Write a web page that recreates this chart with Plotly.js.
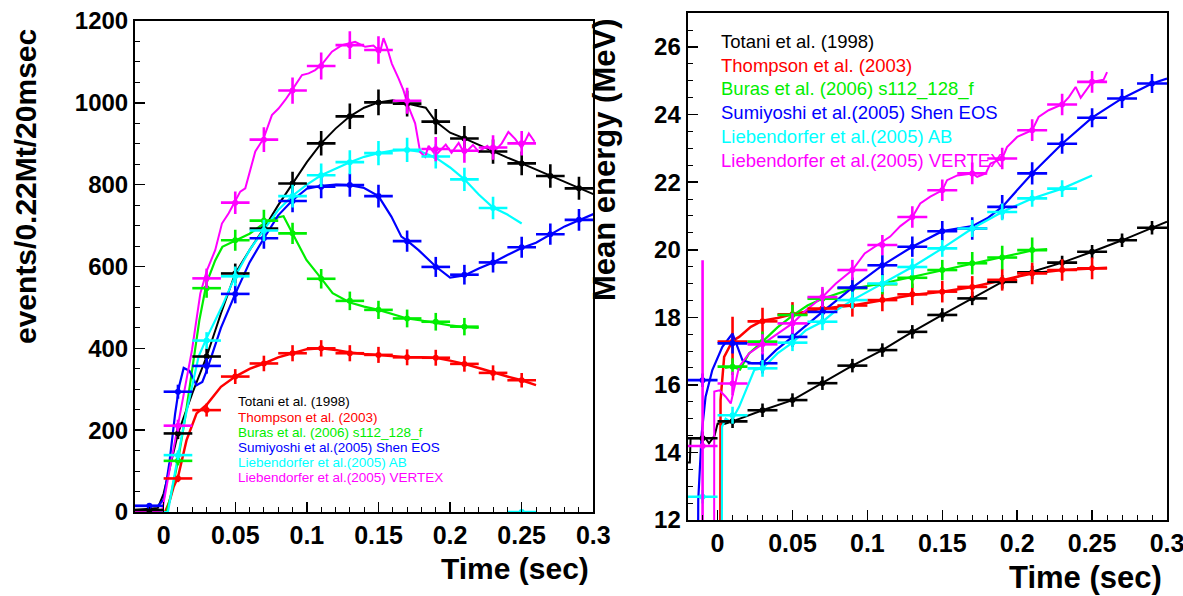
<!DOCTYPE html>
<html><head><meta charset="utf-8">
<script src="https://cdn.plot.ly/plotly-3.0.1.min.js"></script>
<style>html,body{margin:0;padding:0;background:#fff;} #chart{width:1183px;height:596px;}</style>
</head><body><div id="chart"></div>
<script>
// ---------- shared bin centres (20 msec bins) ----------
var binTime = [-0.01, 0.01, 0.03, 0.05, 0.07, 0.09, 0.11, 0.13, 0.15, 0.17, 0.19, 0.21, 0.23, 0.25, 0.27, 0.29];

var seriesNames = ["Totani et al. (1998)", "Thompson et al. (2003)", "Buras et al. (2006) s112_128_f",
  "Sumiyoshi et al.(2005) Shen EOS", "Liebendorfer et al.(2005) AB", "Liebendorfer et al.(2005) VERTEX"];
var seriesColors = ["#000000", "#ff0000", "#00ee00", "#0000ff", "#00ffff", "#ff00ff"];

// ---------- LEFT: event rate points ----------
var evTotani    = [5, 192, 380, 583, 693, 803, 901, 967, 1001, 998, 954, 913, 881, 852, 821, 791];
var evThompson  = [null, 82, 249, 331, 363, 388, 400, 388, 384, 378, 377, 362, 340, 322, null, null];
var evBuras     = [null, 125, 547, 664, 712, 681, 570, 516, 494, 473, 465, 453, null, null, null, null];
var evSumiyoshi = [15, 294, 357, 533, 669, 760, 795, 799, 772, 662, 599, 580, 610, 647, 679, 714];
var evLiebAB    = [null, 139, 419, 576, 688, 772, 823, 855, 877, 885, 869, 813, 743, 0, null, null];
var evLiebVX    = [null, 211, 571, 756, 910, 1030, 1090, 1141, 1129, 1005, 887, 883, 891, 901, null, null];

// ---------- LEFT: model curves ----------
var cTotaniT = [-0.02, -0.004, 0.0, 0.005, 0.01, 0.02, 0.03, 0.04, 0.05, 0.06, 0.07, 0.08, 0.09, 0.1, 0.11, 0.12, 0.13, 0.14, 0.15, 0.16, 0.17, 0.183, 0.19, 0.2, 0.21, 0.22, 0.23, 0.24, 0.25, 0.26, 0.27, 0.28, 0.29, 0.3];
var cTotaniV = [5, 10, 45, 120, 192, 290, 380, 485, 583, 640, 693, 750, 803, 855, 901, 937, 967, 988, 1001, 1006, 998, 988, 954, 927, 913, 897, 881, 866, 852, 837, 821, 806, 791, 777];

var cThompsonT = [0.001, 0.004, 0.007, 0.01, 0.016, 0.023, 0.03, 0.04, 0.05, 0.06, 0.07, 0.08, 0.09, 0.1, 0.11, 0.12, 0.13, 0.14, 0.15, 0.16, 0.17, 0.18, 0.19, 0.2, 0.21, 0.22, 0.23, 0.24, 0.25, 0.26];
var cThompsonV = [0, 25, 62, 85, 176, 241, 262, 306, 331, 350, 363, 378, 388, 398, 400, 396, 390, 386, 384, 381, 378, 378, 377, 370, 362, 352, 341, 331, 322, 310];

var cBurasT = [0.002, 0.005, 0.01, 0.015, 0.02, 0.025, 0.03, 0.036, 0.041, 0.05, 0.06, 0.07, 0.077, 0.0837, 0.09, 0.0997, 0.11, 0.118, 0.13, 0.14, 0.15, 0.16, 0.17, 0.18, 0.19, 0.2, 0.21, 0.22];
var cBurasV = [0, 40, 125, 230, 350, 470, 560, 615, 648, 663, 680, 705, 718, 723, 681, 616, 571, 535, 512, 502, 494, 484, 473, 468, 462, 456, 452, 450];

var cSumiyoshiT = [-0.02, -0.004, 0.0, 0.004, 0.008, 0.011, 0.014, 0.018, 0.023, 0.027, 0.03, 0.035, 0.04, 0.05, 0.06, 0.07, 0.08, 0.09, 0.1, 0.11, 0.12, 0.13, 0.14, 0.15, 0.159, 0.166, 0.17, 0.178, 0.19, 0.2, 0.21, 0.22, 0.23, 0.24, 0.25, 0.26, 0.27, 0.28, 0.29, 0.3];
var cSumiyoshiV = [15, 15, 30, 120, 240, 310, 352, 345, 310, 318, 345, 400, 450, 533, 610, 669, 725, 762, 790, 797, 800, 799, 792, 772, 722, 673, 663, 640, 600, 573, 578, 595, 610, 628, 645, 658, 678, 698, 713, 728];

var cLiebABT = [-0.02, 0.003, 0.006, 0.01, 0.015, 0.0198, 0.0244, 0.03, 0.0407, 0.05, 0.06, 0.07, 0.08, 0.09, 0.1, 0.11, 0.12, 0.13, 0.14, 0.15, 0.16, 0.17, 0.18, 0.19, 0.2, 0.21, 0.22, 0.23, 0.24, 0.25];
var cLiebABV = [0, 0, 60, 139, 230, 306, 380, 425, 502, 577, 640, 690, 738, 773, 800, 823, 840, 855, 868, 877, 883, 885, 880, 866, 842, 813, 776, 744, 727, 705];

var cLiebVXT = [-0.02, -0.001, 0.004, 0.01, 0.0198, 0.0256, 0.0303, 0.036, 0.0407, 0.0454, 0.05, 0.0535, 0.057, 0.0605, 0.064, 0.0698, 0.0756, 0.0802, 0.0849, 0.0896, 0.0966, 0.1012, 0.1058, 0.1105, 0.1175, 0.1245, 0.1337, 0.1407, 0.1465, 0.1512, 0.1535, 0.1558, 0.1593, 0.164, 0.1674, 0.171, 0.1756, 0.1791, 0.1826, 0.185, 0.19, 0.197, 0.201, 0.206, 0.21, 0.216, 0.22, 0.226, 0.23, 0.234, 0.2361, 0.2407, 0.2454, 0.25, 0.255, 0.259];
var cLiebVXV = [0, 3, 100, 211, 396, 534, 591, 640, 705, 730, 762, 783, 791, 836, 881, 913, 970, 986, 1007, 1031, 1068, 1072, 1080, 1094, 1125, 1141, 1149, 1137, 1140, 1125, 1158, 1137, 1096, 1060, 1031, 990, 950, 880, 868, 895, 872, 898, 878, 902, 876, 897, 880, 895, 878, 893, 901, 929, 912, 890, 925, 905];

// ---------- RIGHT: mean energy points ----------
var meTotani    = [14.42, 14.92, 15.25, 15.55, 16.05, 16.57, 17.03, 17.57, 18.07, 18.56, 19.05, 19.33, 19.62, 19.94, 20.28, 20.65];
var meThompson  = [null, 17.28, 17.88, 18.09, 18.26, 18.35, 18.51, 18.68, 18.76, 18.9, 19.11, 19.3, 19.4, 19.45, null, null];
var meBuras     = [null, 16.54, 17.28, 18.07, 18.55, 18.86, 18.98, 19.17, 19.4, 19.6, 19.77, 19.99, null, null, null, null];
var meSumiyoshi = [16.14, 17.23, 16.64, 17.42, 18.16, 18.88, 19.54, 20.09, 20.55, 20.63, 21.27, 22.26, 23.14, 23.91, 24.48, 24.92];
var meLiebAB    = [12.69, 15.1, 16.49, 17.25, 17.87, 18.51, 19.0, 19.49, 20.04, 20.63, 21.12, 21.52, 21.81, null, null, null];
var meLiebVX    = [14.19, 16.04, 17.2, 17.82, 18.6, 19.4, 20.14, 20.97, 21.76, 22.26, 22.7, 23.54, 24.3, 24.97, null, null];

var meErrTotani    = [0.2, 0.2, 0.2, 0.2, 0.2, 0.2, 0.2, 0.2, 0.2, 0.2, 0.2, 0.2, 0.2, 0.2, 0.2, 0.2];
var meErrThompson  = [null, 0.74, 0.4, 0.36, 0.34, 0.33, 0.33, 0.32, 0.32, 0.32, 0.32, 0.32, 0.32, 0.32, null, null];
var meErrBuras     = [null, 0.25, 0.3, 0.3, 0.3, 0.3, 0.3, 0.3, 0.3, 0.33, 0.35, 0.37, null, null, null, null];
var meErrSumiyoshi = [0.2, 0.3, 0.3, 0.3, 0.3, 0.3, 0.3, 0.3, 0.3, 0.33, 0.35, 0.33, 0.3, 0.28, 0.28, 0.28];
var meErrLiebAB    = [0.2, 0.25, 0.25, 0.25, 0.25, 0.25, 0.25, 0.25, 0.25, 0.25, 0.25, 0.25, 0.25, null, null, null];
var meErrLiebVX    = [5.5, 0.35, 0.3, 0.3, 0.3, 0.3, 0.3, 0.32, 0.32, 0.32, 0.32, 0.32, 0.32, 0.32, null, null];

// ---------- RIGHT: model curves ----------
var rTotaniT = [-0.02, -0.0185, -0.018, -0.008, -0.0057, -0.002, 0.0, 0.005, 0.01, 0.03, 0.05, 0.07, 0.09, 0.11, 0.13, 0.15, 0.17, 0.19, 0.21, 0.23, 0.25, 0.27, 0.29, 0.3];
var rTotaniE = [13.7, 13.7, 14.42, 14.42, 14.27, 14.5, 14.85, 14.85, 14.92, 15.25, 15.55, 16.05, 16.57, 17.03, 17.57, 18.07, 18.56, 19.05, 19.35, 19.62, 19.94, 20.28, 20.65, 20.83];

var rThompsonT = [0.0015, 0.002, 0.0044, 0.01, 0.0144, 0.0222, 0.03, 0.04, 0.05, 0.07, 0.09, 0.11, 0.13, 0.15, 0.17, 0.19, 0.21, 0.23, 0.25, 0.26];
var rThompsonE = [5, 15.55, 16.83, 17.3, 17.42, 17.72, 17.9, 17.98, 18.09, 18.26, 18.35, 18.51, 18.66, 18.76, 18.9, 19.1, 19.3, 19.4, 19.45, 19.47];

var rBurasT = [0.005, 0.01, 0.015, 0.021, 0.03, 0.04, 0.05, 0.06, 0.07, 0.09, 0.11, 0.13, 0.15, 0.17, 0.19, 0.21, 0.22];
var rBurasE = [16.5, 16.54, 16.45, 16.93, 17.28, 17.7, 18.05, 18.35, 18.55, 18.85, 19.0, 19.2, 19.4, 19.6, 19.78, 19.98, 20.02];

var rSumiyoshiT = [-0.0135, -0.0129, -0.0106, -0.008, -0.0035, 0.0032, 0.01, 0.0166, 0.023, 0.03, 0.039, 0.05, 0.07, 0.09, 0.11, 0.13, 0.15, 0.17, 0.18, 0.19, 0.21, 0.23, 0.25, 0.27, 0.29, 0.3];
var rSumiyoshiE = [5, 12.59, 14.56, 15.65, 16.44, 17.13, 17.52, 16.73, 16.64, 16.64, 17.03, 17.42, 18.16, 18.88, 19.54, 20.09, 20.55, 20.7, 20.93, 21.27, 22.26, 23.14, 23.91, 24.48, 24.92, 25.07];

var rLiebABT = [0.0025, 0.003, 0.0054, 0.0088, 0.0144, 0.02, 0.0245, 0.03, 0.04, 0.05, 0.059, 0.07, 0.079, 0.09, 0.11, 0.13, 0.15, 0.17, 0.19, 0.21, 0.23, 0.25];
var rLiebABE = [5, 14.76, 15.0, 14.9, 15.35, 15.94, 16.44, 16.49, 16.93, 17.25, 17.62, 17.87, 18.2, 18.51, 19.0, 19.49, 20.04, 20.63, 21.12, 21.52, 21.81, 22.2];

var rLiebVXT = [-0.0024, -0.0022, 0.0013, 0.0054, 0.0088, 0.0144, 0.021, 0.03, 0.04, 0.05, 0.059, 0.07, 0.079, 0.09, 0.0982, 0.1085, 0.1152, 0.122, 0.13, 0.1353, 0.142, 0.15, 0.1532, 0.16, 0.17, 0.1733, 0.179, 0.1822, 0.19, 0.1932, 0.2, 0.21, 0.2143, 0.221, 0.23, 0.2345, 0.239, 0.2424, 0.25, 0.2576, 0.26];
var rLiebVXE = [5, 15.8, 15.84, 15.65, 15.45, 16.54, 16.93, 17.2, 17.52, 17.82, 18.21, 18.6, 19.0, 19.4, 19.89, 20.19, 20.39, 20.7, 20.97, 21.37, 21.57, 21.76, 22.06, 22.2, 22.26, 22.16, 22.26, 22.55, 22.7, 23.04, 23.34, 23.54, 23.93, 24.13, 24.3, 24.52, 24.82, 24.5, 24.97, 25.03, 25.26];

// ---------- build traces ----------
var W = 1183, H = 596;
var FONT = "Liberation Sans, Arial, Helvetica, sans-serif";
var traces = [];
function addCurve(t, v, col, xa, ya, w) {
  traces.push({x: t, y: v, xaxis: xa, yaxis: ya, mode: 'lines', type: 'scatter',
    line: {color: col, width: w}, hoverinfo: 'skip'});
}
function addPoints(v, col, xa, ya, errY) {
  traces.push({x: binTime, y: v, xaxis: xa, yaxis: ya, mode: 'markers', type: 'scatter',
    marker: {color: col, size: 6},
    error_x: {type: 'constant', value: 0.01, color: col, thickness: 2.6, width: 0},
    error_y: errY});
}
var leftCurves = [[cTotaniT, cTotaniV, 2], [cThompsonT, cThompsonV, 2.5], [cBurasT, cBurasV, 2.2],
  [cSumiyoshiT, cSumiyoshiV, 2.2], [cLiebABT, cLiebABV, 2.2], [cLiebVXT, cLiebVXV, 2]];
var leftPts = [evTotani, evThompson, evBuras, evSumiyoshi, evLiebAB, evLiebVX];
var rightCurves = [[rTotaniT, rTotaniE, 2], [rThompsonT, rThompsonE, 2.5], [rBurasT, rBurasE, 2.2],
  [rSumiyoshiT, rSumiyoshiE, 2.2], [rLiebABT, rLiebABE, 2.2], [rLiebVXT, rLiebVXE, 2]];
var rightPts = [meTotani, meThompson, meBuras, meSumiyoshi, meLiebAB, meLiebVX];
var rightErr = [meErrTotani, meErrThompson, meErrBuras, meErrSumiyoshi, meErrLiebAB, meErrLiebVX];

for (var i = 0; i < 6; i++) {
  addCurve(leftCurves[i][0], leftCurves[i][1], seriesColors[i], 'x', 'y', leftCurves[i][2]);
  addCurve(rightCurves[i][0], rightCurves[i][1], seriesColors[i], 'x2', 'y2', rightCurves[i][2]);
}
for (var i = 0; i < 6; i++) {
  addPoints(leftPts[i], seriesColors[i], 'x', 'y',
    {type: 'sqrt', color: seriesColors[i], thickness: 2.6, width: 0});
  addPoints(rightPts[i], seriesColors[i], 'x2', 'y2',
    {type: 'data', array: rightErr[i], color: seriesColors[i], thickness: 2.6, width: 0});
}

// ---------- axes ----------
function px(xp) { return xp / W; }
function py(yp) { return 1 - yp / H; }
function axisBase(extra) {
  var a = {ticks: 'inside', ticklen: 10, tickwidth: 1.5, tickcolor: '#000',
    showline: true, linewidth: 2, linecolor: '#000', mirror: true,
    showgrid: false, zeroline: false, ticklabeloverflow: 'allow',
    tickfont: {family: FONT, size: 24, color: '#000', weight: 'bold'}};
  for (var k in extra) a[k] = extra[k];
  return a;
}
var layout = {
  width: W, height: H, margin: {l: 0, r: 0, t: 0, b: 0},
  paper_bgcolor: '#fff', plot_bgcolor: '#fff', showlegend: false,
  xaxis: axisBase({domain: [px(135), px(593.3)], range: [-0.02, 0.3], tick0: 0, dtick: 0.05, anchor: 'y',
    minor: {ticks: 'inside', dtick: 0.01, ticklen: 5, tickwidth: 1, tickcolor: '#000'},
    tickfont: {family: FONT, size: 25, color: '#000', weight: 'bold'}}),
  yaxis: axisBase({domain: [py(512), py(21)], range: [0, 1200], tick0: 0, dtick: 200, anchor: 'x',
    minor: {ticks: 'inside', dtick: 50, ticklen: 5, tickwidth: 1, tickcolor: '#000'}}),
  xaxis2: axisBase({domain: [px(687.6), px(1167)], range: [-0.02, 0.3], tick0: 0, dtick: 0.05, anchor: 'y2',
    minor: {ticks: 'inside', dtick: 0.01, ticklen: 5, tickwidth: 1, tickcolor: '#000'},
    tickfont: {family: FONT, size: 25, color: '#000', weight: 'bold'}}),
  yaxis2: axisBase({domain: [py(520), py(13.3)], range: [12, 27], tick0: 12, dtick: 2, anchor: 'x2',
    minor: {ticks: 'inside', dtick: 0.5, ticklen: 5, tickwidth: 1, tickcolor: '#000'}}),
  annotations: []
};

function ann(text, x, y, xanchor, size, color, bold, angle) {
  layout.annotations.push({text: bold ? '<b>' + text + '</b>' : text, xref: 'paper', yref: 'paper',
    x: x, y: y, xanchor: xanchor, yanchor: 'middle', showarrow: false, textangle: angle || 0,
    font: {family: FONT, size: size, color: color}});
}
// axis titles
ann('events/0.22Mt/20msec', px(25), py(187), 'center', 30, '#000', true, -90);
ann('Mean energy (MeV)', px(604), py(160), 'center', 31, '#000', true, -90);
ann('Time (sec)', px(591), py(568), 'right', 30, '#000', true);
ann('Time (sec)', px(1164), py(577), 'right', 31, '#000', true);
// legends
var leftRows = [401.7, 417.2, 432.5, 447.4, 462.4, 477.6];
var rightRows = [41.7, 65.3, 89, 112.5, 136, 160];
for (var i = 0; i < 6; i++) {
  ann(seriesNames[i], px(235.5), py(leftRows[i]), 'left', 13.5, seriesColors[i], false);
  ann(seriesNames[i], px(719), py(rightRows[i]), 'left', 18.5, seriesColors[i], false);
}

Plotly.newPlot('chart', traces, layout, {staticPlot: true, displayModeBar: false});
</script></body></html>
